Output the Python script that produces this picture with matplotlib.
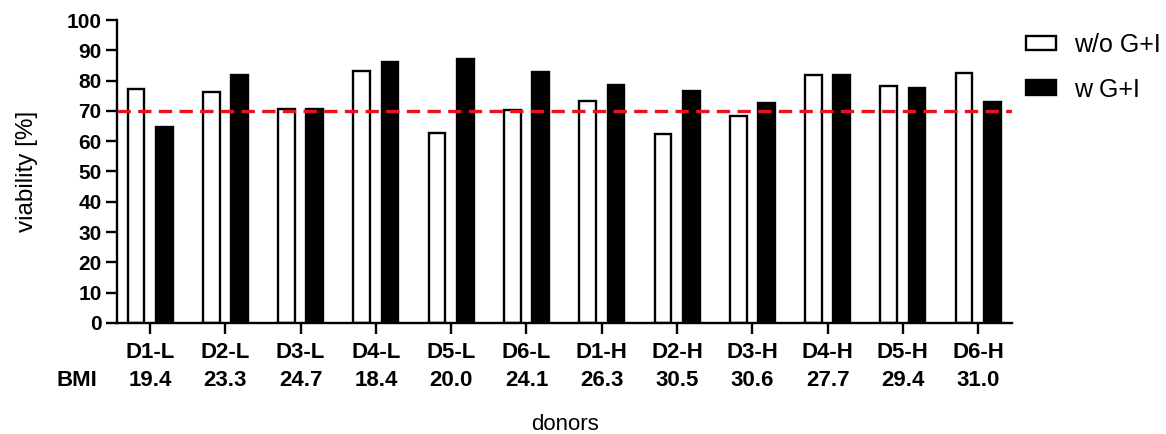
import numpy as np
import matplotlib.pyplot as plt
import matplotlib.transforms as mtransforms

plt.rcParams['font.family'] = ['Liberation Sans', 'DejaVu Sans']

donors = ['D1-L', 'D2-L', 'D3-L', 'D4-L', 'D5-L', 'D6-L',
          'D1-H', 'D2-H', 'D3-H', 'D4-H', 'D5-H', 'D6-H']
bmi = ['19.4', '23.3', '24.7', '18.4', '20.0', '24.1',
       '26.3', '30.5', '30.6', '27.7', '29.4', '31.0']
without_gi = [77.2, 76.2, 70.6, 83.2, 62.6, 70.3, 73.4, 62.3, 68.3, 82.0, 78.2, 82.4]
with_gi = [64.7, 81.7, 70.6, 86.1, 87.0, 83.0, 78.4, 76.6, 72.5, 81.8, 77.6, 73.0]
threshold = 70

x = np.arange(len(donors))
off = 0.187
w = 0.222

fig = plt.figure(figsize=(11.66, 4.34), dpi=100)
ax = fig.add_axes([0.1003, 0.2558, 0.7677, 0.6981])

ax.bar(x - off, without_gi, w, color='white', edgecolor='black', linewidth=1.7, label='w/o G+I')
ax.bar(x + off, with_gi, w, color='black', edgecolor='black', linewidth=1.7, label='w G+I')
ax.axhline(threshold, color='#e8141c', linestyle=(0, (4, 2.2)), linewidth=2.4, zorder=3)

ax.set_xlim(-0.44, 11.45)
ax.set_ylim(0, 100)
ax.set_yticks(np.arange(0, 101, 10))
ax.set_xticks(x)
ax.set_xticklabels(donors, fontsize=16, fontweight='bold')
for lab in ax.get_yticklabels():
    lab.set_fontsize(15)
    lab.set_fontweight('bold')

for s in ['top', 'right']:
    ax.spines[s].set_visible(False)
for s in ['left', 'bottom']:
    ax.spines[s].set_linewidth(1.7)
ax.tick_params(axis='x', length=8, width=1.7, pad=6)
ax.tick_params(axis='y', length=8, width=1.7, pad=3)

# BMI row under the donor labels
trans = mtransforms.blended_transform_factory(ax.transData, fig.transFigure)
for xi, b in zip(x, bmi):
    ax.text(xi, 1 - 380 / 434, b, transform=trans, fontsize=16, fontweight='bold',
            ha='center', va='center', clip_on=False)
fig.text(77 / 1166, 1 - 380 / 434, 'BMI', fontsize=16, fontweight='bold', ha='center', va='center')

ax.set_ylabel('viability [%]', fontsize=17.5, labelpad=21)
fig.text(565 / 1166, 1 - 425 / 434, 'donors', fontsize=16, ha='center', va='center')

ax.legend(loc='upper left', bbox_to_anchor=(1.004, 0.99), borderaxespad=0, frameon=False,
          fontsize=18, handlelength=1.22, handleheight=0.52, handletextpad=0.7,
          labelspacing=0.82)

fig.savefig('out.png', dpi=100)
